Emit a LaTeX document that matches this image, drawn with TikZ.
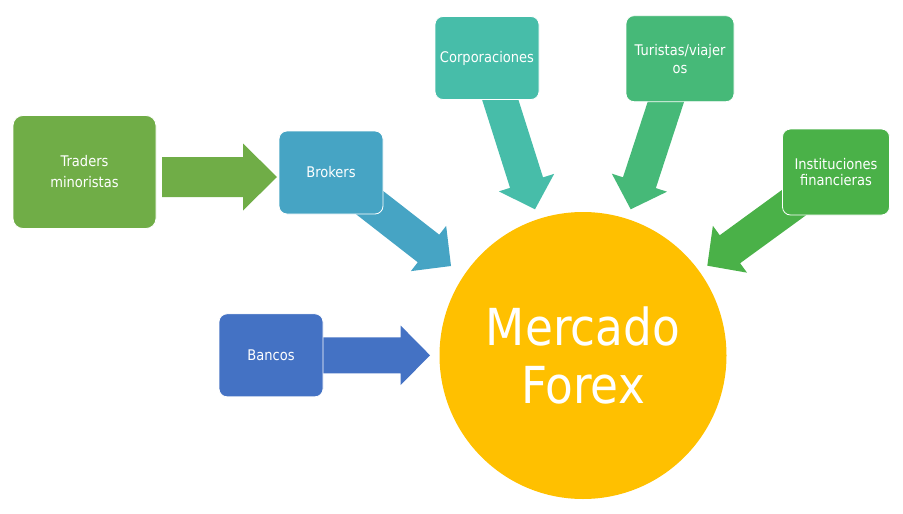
\documentclass[tikz,border=0pt]{standalone}
\usepackage{fontspec}
\setmainfont[FakeStretch=0.89]{DejaVu Sans}
\usetikzlibrary{calc,backgrounds}
\definecolor{cTr}{HTML}{70AD47}
\definecolor{cBk}{HTML}{46A4C4}
\definecolor{cCo}{HTML}{47BDA9}
\definecolor{cTu}{HTML}{46B978}
\definecolor{cIn}{HTML}{4AB148}
\definecolor{cBa}{HTML}{4472C4}
\definecolor{cGold}{HTML}{FFC000}
% #1 tail, #2 tip, #3 shaft half width, #4 head half width, #5 head length, #6 colour
\newcommand\fatArrowX[6]{%
  \fill[#6] ($(#1)!#3!90:(#2)$) -- ($(#2)!#5!(#1)!#3!-90:(#1)$) -- ($(#2)!#5!(#1)!#4!-90:(#1)$) -- (#2)
    -- ($(#2)!#5!(#1)!#4!90:(#1)$) -- ($(#2)!#5!(#1)!#3!90:(#1)$) -- ($(#1)!#3!-90:(#2)$) -- cycle;}
\begin{document}
\begin{tikzpicture}[x=1pt,y=-1pt,
  box/.style={draw=white, line width=0.8pt, rounded corners=8pt, text=white, align=center,
    inner sep=0pt, font=\fontsize{14.67}{21}\selectfont},
  hub/.style={circle, fill=cGold, text=white, align=center, inner sep=0pt,
    minimum size=287pt, font=\fontsize{51}{57.7}\selectfont}]
\useasboundingbox (0,0) rectangle (903,514);
\node[box, fill=cTr, rounded corners=10pt, minimum width=143pt, minimum height=113pt] (tr) at (84.5,172) {Traders\\minoristas};
\node[box, fill=cBk, minimum width=104pt, minimum height=83pt] (bk) at (331,172.5) {Brokers};
\node[box, fill=cCo, minimum width=104pt, minimum height=83pt] (co) at (487,58) {Corporaciones};
\node[box, fill=cTu, minimum width=108pt, minimum height=86pt, font=\fontsize{14.67}{18}\selectfont] (tu) at (680,58.7) {Turistas/viajer\\os};
\node[box, fill=cIn, minimum width=107pt, minimum height=86pt, font=\fontsize{14.67}{16.5}\selectfont] (in) at (836,172) {Instituciones\\financieras};
\node[box, fill=cBa, minimum width=104pt, minimum height=83pt] (ba) at (271,355.3) {Bancos};
\node[hub] (mf) at (583,355.5) {Mercado\\Forex};
\coordinate (trA) at (162,177);
\coordinate (trB) at (277,177);
\coordinate (bkTip) at (451,266);
\coordinate (coTip) at (535,209.3);
\coordinate (tuTip) at (630.7,209.3);
\coordinate (inTip) at (707.3,265.7);
\coordinate (baTip) at (430,355.3);
\begin{scope}[on background layer]
\fatArrowX{trA}{trB}{20pt}{33.5pt}{34pt}{cTr}
\fatArrowX{bk.center}{bkTip}{17.5pt}{28.7pt}{28.5pt}{cBk}
\fatArrowX{co.center}{coTip}{17.3pt}{29pt}{28pt}{cCo}
\fatArrowX{tu.center}{tuTip}{17.3pt}{29pt}{28pt}{cTu}
\fatArrowX{in.center}{inTip}{17.3pt}{29pt}{28pt}{cIn}
\fatArrowX{ba.center}{baTip}{18pt}{29.7pt}{29.3pt}{cBa}
\end{scope}
\end{tikzpicture}
\end{document}
